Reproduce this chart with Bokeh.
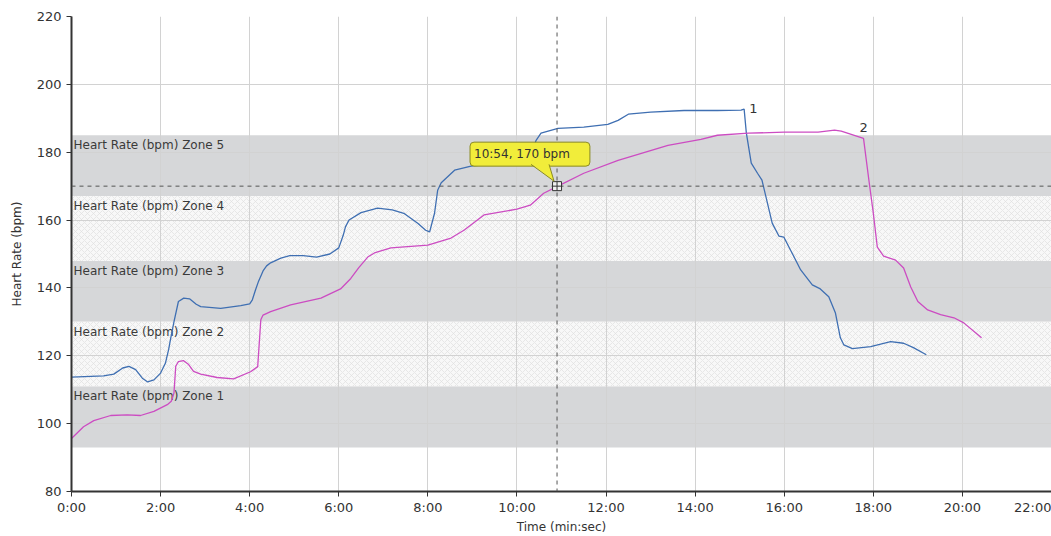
from bokeh.plotting import figure
from bokeh.models import FixedTicker, Span, Label
from bokeh.core.properties import value
from bokeh.embed import file_html
from bokeh.resources import INLINE

# ---------------- data ----------------
x_ticks = [0, 2, 4, 6, 8, 10, 12, 14, 16, 18, 20, 22]
x_tick_labels = ["0:00", "2:00", "4:00", "6:00", "8:00", "10:00", "12:00",
                 "14:00", "16:00", "18:00", "20:00", "22:00"]
y_ticks = [80, 100, 120, 140, 160, 180, 200, 220]

zone_names = ["Heart Rate (bpm) Zone 1", "Heart Rate (bpm) Zone 2",
              "Heart Rate (bpm) Zone 3", "Heart Rate (bpm) Zone 4",
              "Heart Rate (bpm) Zone 5"]
zone_low = [93, 111, 130, 148, 167]
zone_high = [111, 130, 148, 167, 185]

# series 1 (blue) - time in minutes, heart rate in bpm
s1_t = [0, 0.72, 0.95, 1.15, 1.29, 1.44, 1.59, 1.71, 1.85, 2.0, 2.11, 2.18,
        2.22, 2.3, 2.4, 2.52, 2.65, 2.8, 2.9, 3.35, 3.8, 4.0, 4.06, 4.13, 4.2,
        4.3, 4.38, 4.47, 4.7, 4.9, 5.2, 5.5, 5.8, 6.0, 6.1, 6.15, 6.23, 6.5,
        6.87, 7.2, 7.46, 7.78, 7.95, 8.04, 8.15, 8.22, 8.3, 8.6, 8.97, 9.4,
        9.8, 10.2, 10.35, 10.43, 10.54, 10.92, 11.5, 12.04, 12.27, 12.5, 13.0,
        13.75, 14.5, 15.03, 15.1, 15.15, 15.26, 15.4, 15.5, 15.73, 15.88,
        15.99, 16.14, 16.37, 16.63, 16.81, 17.0, 17.15, 17.26, 17.34, 17.53,
        17.94, 18.39, 18.68, 18.9, 19.19]
s1_hr = [113.7, 114.1, 114.6, 116.4, 116.9, 115.9, 113.4, 112.3, 112.9, 114.9,
         117.9, 121.8, 124.7, 130.0, 136.0, 137.0, 136.8, 135.2, 134.5, 134.0,
         134.8, 135.3, 136.5, 139.4, 142.0, 145.0, 146.5, 147.4, 148.8, 149.5,
         149.5, 149.1, 150.0, 151.8, 155.5, 158.0, 160.0, 162.2, 163.5, 163.0,
         162.0, 159.0, 157.0, 156.5, 162.0, 168.8, 171.0, 174.7, 175.9, 176.5,
         177.0, 177.5, 180.5, 183.5, 185.6, 187.0, 187.4, 188.2, 189.4, 191.2,
         191.8, 192.3, 192.3, 192.4, 192.7, 185.6, 176.8, 173.8, 171.8, 159.1,
         155.3, 155.0, 151.2, 145.3, 140.9, 139.7, 137.4, 132.6, 125.3, 123.2,
         122.1, 122.7, 124.2, 123.7, 122.4, 120.3]

# series 2 (magenta)
s2_t = [0, 0.27, 0.5, 0.88, 1.25, 1.55, 1.85, 2.15, 2.24, 2.3, 2.34, 2.4,
        2.51, 2.63, 2.74, 2.9, 3.27, 3.64, 4.02, 4.18, 4.25, 4.3, 4.47, 4.92,
        5.6, 6.04, 6.27, 6.45, 6.65, 6.8, 7.17, 8.0, 8.52, 8.81, 9.26, 10.0,
        10.3, 10.6, 10.92, 11.5, 12.27, 13.39, 14.13, 14.5, 15.2, 16.0, 16.76,
        17.13, 17.28, 17.78, 17.9, 18.0, 18.09, 18.23, 18.5, 18.68, 18.84,
        19.0, 19.22, 19.51, 19.81, 20.03, 20.43]
s2_hr = [95.6, 99.1, 100.9, 102.4, 102.6, 102.4, 103.6, 105.6, 106.6, 109.0,
         116.9, 118.3, 118.6, 117.4, 115.4, 114.6, 113.6, 113.2, 115.3, 116.8,
         130.6, 132.0, 133.0, 135.0, 137.0, 139.7, 142.8, 146.0, 149.1, 150.3,
         151.8, 152.6, 154.7, 157.0, 161.5, 163.2, 164.4, 167.9, 170.0, 173.8,
         177.6, 182.0, 183.8, 185.0, 185.6, 185.9, 185.9, 186.5, 186.2, 184.1,
         171.8, 162.0, 152.0, 149.4, 148.2, 145.9, 140.3, 136.0, 133.5, 132.1,
         131.2, 129.7, 125.3]

series_names = ["1", "2"]
series_label_t = [15.1, 17.78]

cursor_t = 10.9
cursor_hr = 170
cursor_text = "10:54, 170 bpm"

# ---------------- figure ----------------
FONT = "DejaVu Sans"
p = figure(width=1051, height=536, x_range=(0, 22), y_range=(80, 220),
           output_backend="svg", toolbar_location=None,
           min_border_left=71, min_border_right=0, min_border_top=16,
           min_border_bottom=44)
p.outline_line_color = None
p.background_fill_color = "white"

# zone bands
solid = [0, 2, 4]
hatched = [1, 3]
p.quad(left=0, right=22, bottom=[zone_low[i] for i in solid],
       top=[zone_high[i] for i in solid], fill_color="#d6d7d9",
       line_color=None, level="image")
p.quad(left=0, right=22, bottom=[zone_low[i] for i in hatched],
       top=[zone_high[i] for i in hatched], fill_color="#f8f8f8",
       hatch_pattern="diagonal_cross", hatch_color="#e0e0e0",
       hatch_scale=6, hatch_weight=0.7, line_color=None, level="image")

p.text(x=[0] * 5, y=zone_high, text=zone_names, x_offset=2, y_offset=3,
       text_baseline="top", text_align="left", text_font=value(FONT),
       text_font_size="12px", text_color="#3a3a3a")

# grid
p.xgrid.ticker = FixedTicker(ticks=x_ticks)
p.ygrid.ticker = FixedTicker(ticks=y_ticks)
for g in (p.xgrid, p.ygrid):
    g.grid_line_color = "#d2d2d2"
    g.grid_line_width = 1

# axes
p.xaxis.ticker = FixedTicker(ticks=x_ticks)
p.xaxis.major_label_overrides = {t: l for t, l in zip(x_ticks, x_tick_labels)}
p.yaxis.ticker = FixedTicker(ticks=y_ticks)
for ax in (p.xaxis, p.yaxis):
    ax.axis_line_color = "#333333"
    ax.axis_line_width = 2
    ax.major_tick_line_color = "#333333"
    ax.major_tick_out = 5
    ax.major_tick_in = 0
    ax.minor_tick_line_color = None
    ax.major_label_text_font = FONT
    ax.major_label_text_font_size = "13px"
    ax.major_label_text_color = "#333333"
    ax.axis_label_text_font = FONT
    ax.axis_label_text_font_size = "12px"
    ax.axis_label_text_font_style = "normal"
    ax.axis_label_text_color = "#333333"
p.xaxis.axis_label = "Time (min:sec)"
p.yaxis.axis_label = "Heart Rate (bpm)"
p.xaxis.major_label_standoff = 3
p.xaxis.axis_label_standoff = 2
p.yaxis.major_label_standoff = 5
p.yaxis.axis_label_standoff = 10

# series lines
p.line(s1_t, s1_hr, line_color="#3f6fb2", line_width=1.3)
p.line(s2_t, s2_hr, line_color="#cc4cc2", line_width=1.3)

# series labels
i1 = s1_t.index(series_label_t[0])
i2 = s2_t.index(series_label_t[1])
p.text(x=[s1_t[i1]], y=[s1_hr[i1]], text=[series_names[0]], x_offset=5,
       y_offset=-1, text_align="left", text_baseline="middle",
       text_font=value(FONT), text_font_size="13px", text_color="#333333")
p.text(x=[s2_t[i2]], y=[s2_hr[i2]], text=[series_names[1]], x_offset=0,
       y_offset=-11, text_align="center", text_baseline="middle",
       text_font=value(FONT), text_font_size="13px", text_color="#333333")

# cursor crosshair
p.add_layout(Span(location=cursor_t, dimension="height", line_color="#555555",
                  line_dash="4 4", line_width=1))
p.add_layout(Span(location=cursor_hr, dimension="width", line_color="#555555",
                  line_dash="4 4", line_width=1))
p.scatter([cursor_t], [cursor_hr], marker="square_cross", size=9,
          fill_color="#f0f0f0", line_color="#333333", line_width=1,
          level="overlay")

# tooltip callout
YEL = "#f1ed3a"
BORDER = "#8a8a22"
lab = Label(x=cursor_t, y=cursor_hr, x_offset=-87, y_offset=32,
            text=cursor_text, text_align="left", text_baseline="middle",
            text_font=FONT, text_font_size="12px", text_color="#333333",
            background_fill_color=YEL, border_line_color=BORDER,
            border_line_width=1,
            padding=dict(left=4, right=20, top=5, bottom=5),
            border_radius=4)
p.add_layout(lab)

ppm = 980 / 22.0   # pixels per minute
ppb = 476 / 140.0  # pixels per bpm
tx = [cursor_t - 26 / ppm, cursor_t - 8 / ppm, cursor_t - 3 / ppm]
ty = [cursor_hr + 22.5 / ppb, cursor_hr + 22.5 / ppb, cursor_hr + 5 / ppb]
p.patch(tx, ty, fill_color=YEL, line_color=None, level="overlay")
p.line([tx[0], tx[2], tx[1]], [ty[0] - 0.2, ty[2], ty[1] - 0.2],
       line_color=BORDER, line_width=1, level="overlay")

open("out.html", "w").write(file_html(p, INLINE))
